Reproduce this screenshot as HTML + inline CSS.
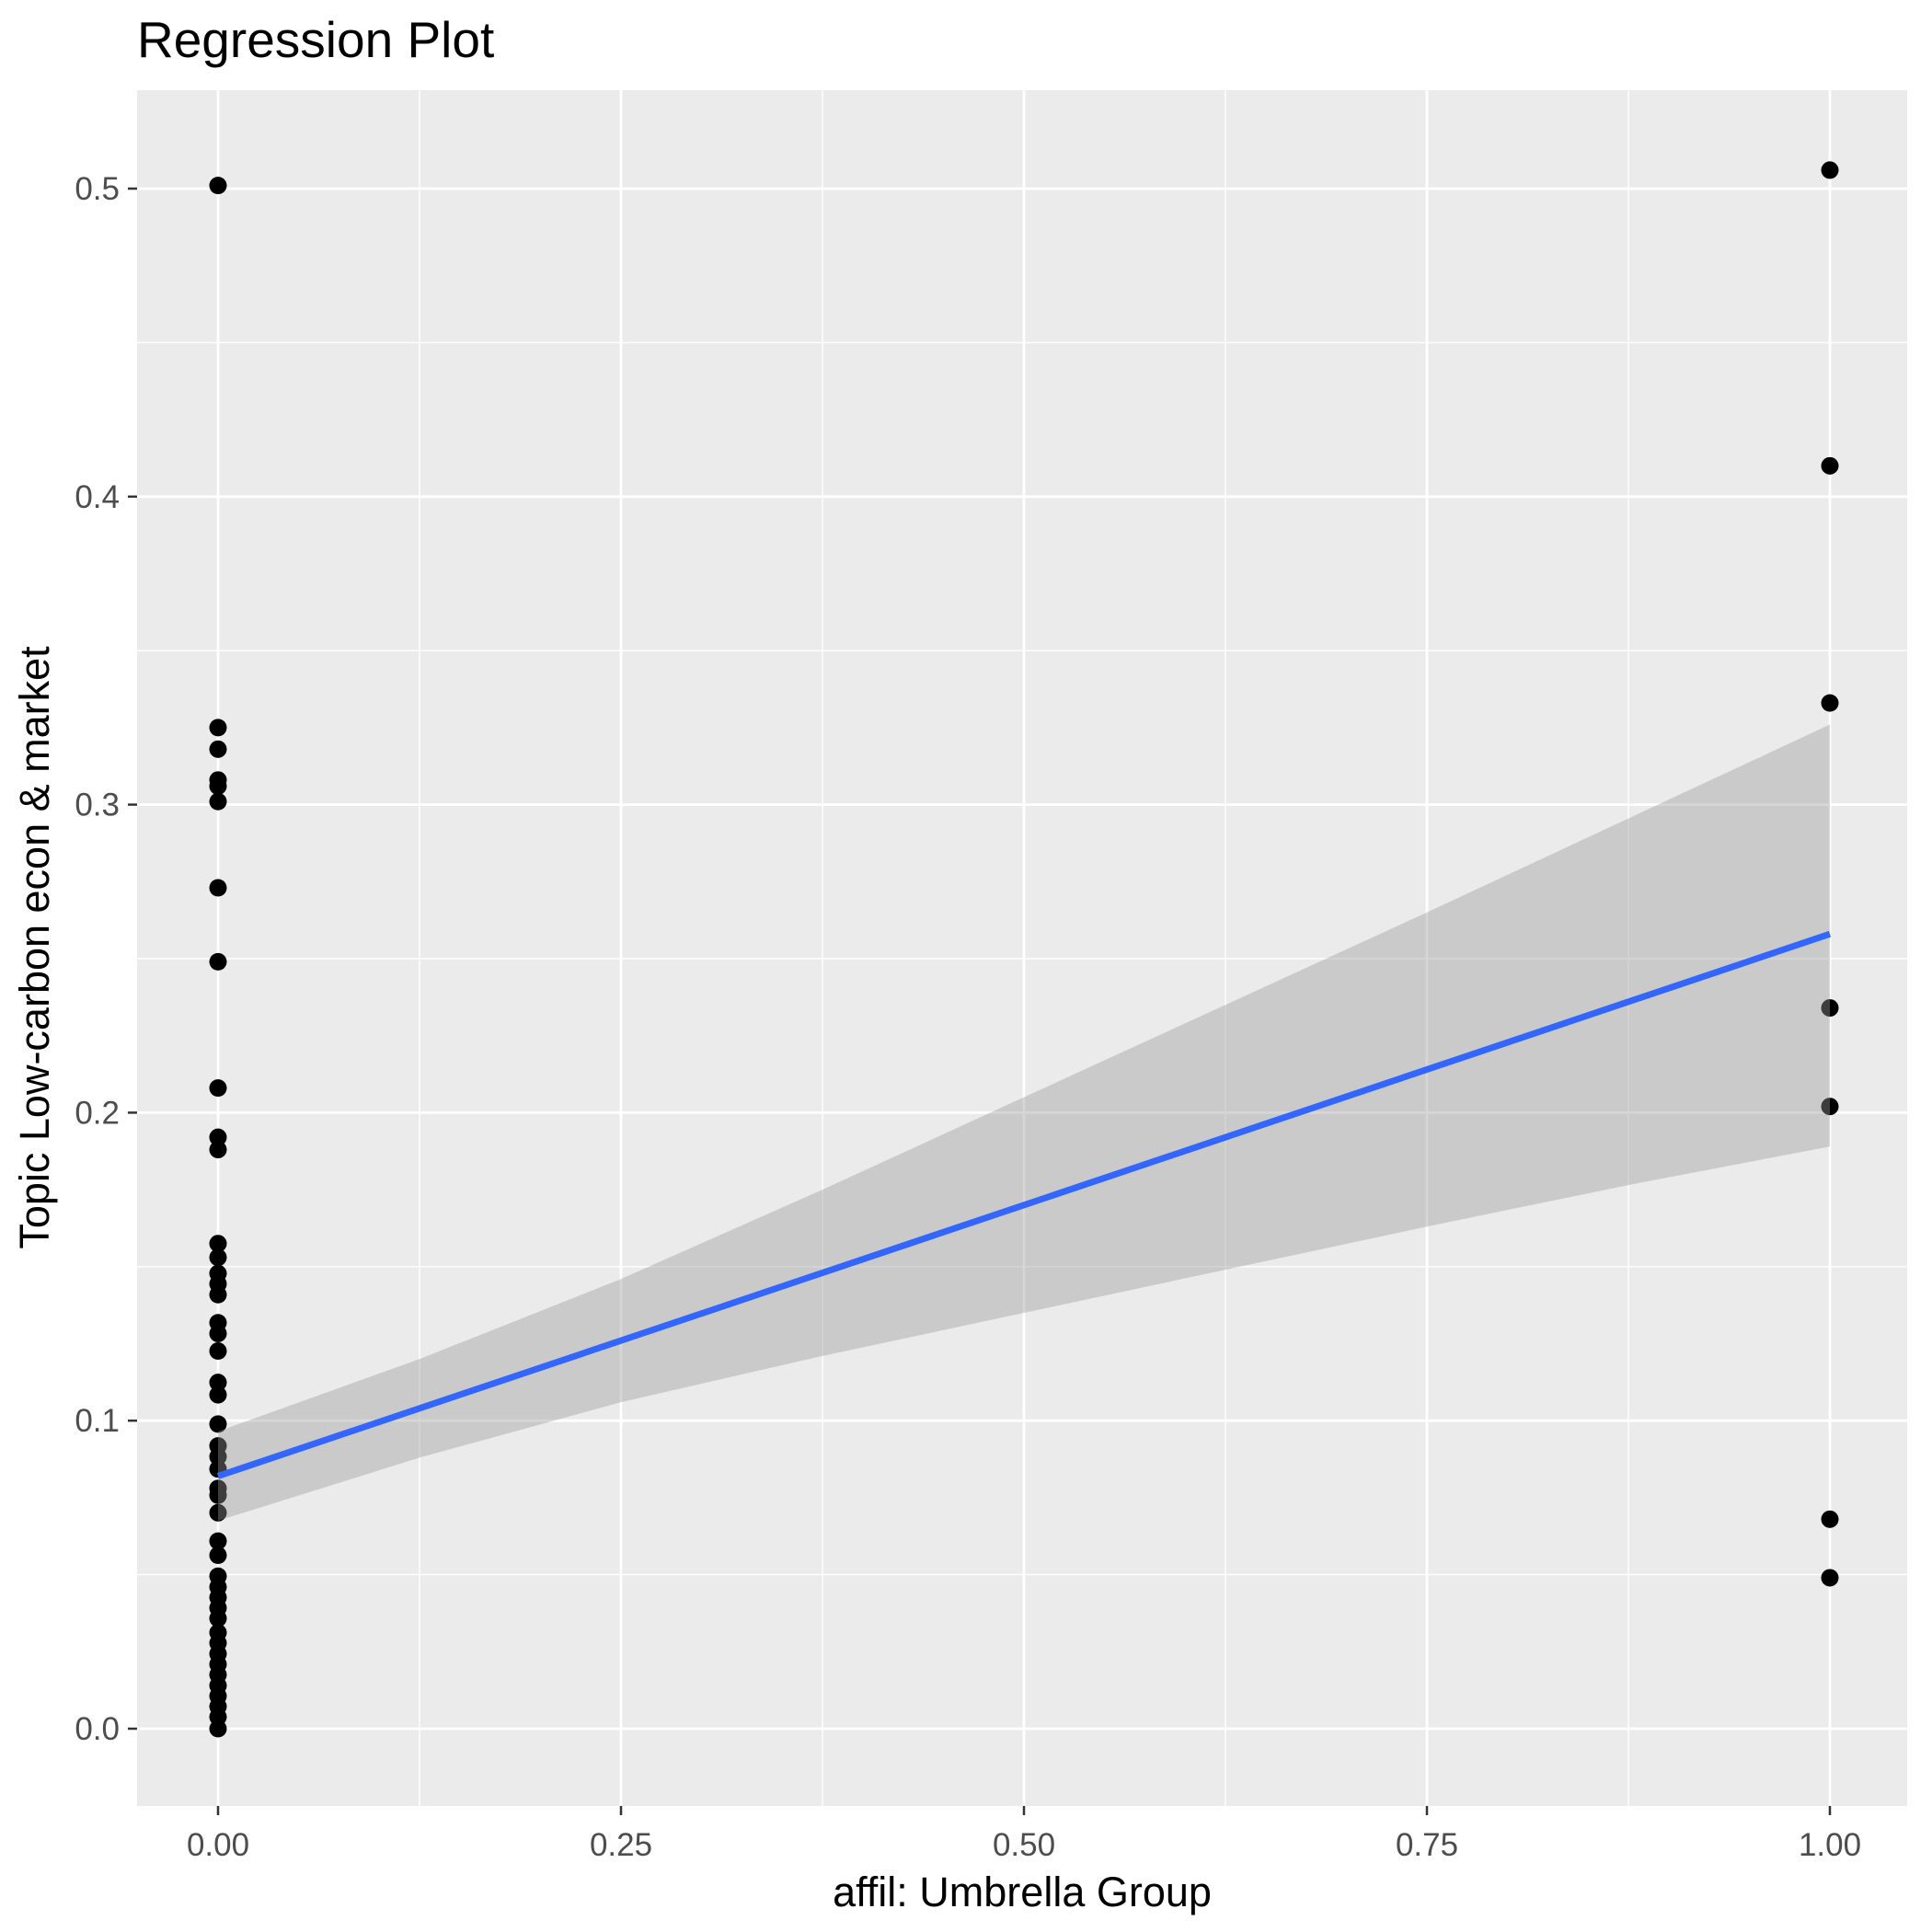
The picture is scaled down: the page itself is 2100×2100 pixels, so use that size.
<!DOCTYPE html>
<html><head><meta charset="utf-8"><style>
html,body{margin:0;padding:0;background:#fff}
svg{display:block;font-family:"Liberation Sans",Arial,sans-serif}
</style></head><body>
<svg id="chart" width="2100" height="2100" viewBox="0 0 2100 2100"></svg>
<script>
const xGroup0 = [0.1575,0.153,0.1478,0.1444,0.1409,0.1318,0.1283,0.1226,0.1124,0.1084,0.0989,0.0918,0.0883,0.0843,0.078,0.0758,0.0701,0.0609,0.0563,0.0495,0.046,0.0426,0.0392,0.0358,0.0312,0.0278,0.0243,0.0209,0.0175,0.014,0.0106,0.0072,0.0038,0,0.501,0.325,0.318,0.308,0.306,0.301,0.273,0.249,0.208,0.192,0.188];
const xGroup1 = [0.506,0.410,0.333,0.234,0.202,0.068,0.049];
const fitX = [0,1];
const fitY = [0.082,0.258];
const bandX = [0,0.125,0.25,0.375,0.5,0.625,0.75,0.875,1];
const bandLow = [0.0675,0.088,0.106,0.121,0.135,0.149,0.163,0.1765,0.189];
const bandHigh = [0.0965,0.120,0.146,0.175,0.205,0.235,0.265,0.2955,0.326];
const xTicks = [0,0.25,0.5,0.75,1];
const xTickLabels = ["0.00","0.25","0.50","0.75","1.00"];
const yTicks = [0,0.1,0.2,0.3,0.4,0.5];
const yTickLabels = ["0.0","0.1","0.2","0.3","0.4","0.5"];

const P = {l:149,r:2073,t:98,b:1963};
const sx = v => 237 + v*1752;
const sy = v => 1879 - v*3348;
const NS = "http://www.w3.org/2000/svg";
const svg = document.getElementById('chart');
function mk(tag, attrs, parent){
  const e = document.createElementNS(NS, tag);
  for (const k in attrs) e.setAttribute(k, attrs[k]);
  (parent||svg).appendChild(e);
  return e;
}
const panel = mk('rect',{x:P.l,y:P.t,width:P.r-P.l,height:P.b-P.t,fill:'#ebebeb'});



const grid = mk('g',{});


for (let i=0;i<xTicks.length-1;i++){
  const v=(xTicks[i]+xTicks[i+1])/2;
  mk('line',{x1:sx(v),x2:sx(v),y1:P.t,y2:P.b,stroke:'#fff','stroke-width':1.4},grid);
}
for (let i=0;i<yTicks.length-1;i++){
  const v=(yTicks[i]+yTicks[i+1])/2;
  mk('line',{x1:P.l,x2:P.r,y1:sy(v),y2:sy(v),stroke:'#fff','stroke-width':1.4},grid);
}
xTicks.forEach(v=>mk('line',{x1:sx(v),x2:sx(v),y1:P.t,y2:P.b,stroke:'#fff','stroke-width':2.8},grid));
yTicks.forEach(v=>mk('line',{x1:P.l,x2:P.r,y1:sy(v),y2:sy(v),stroke:'#fff','stroke-width':2.8},grid));

const pts = mk('g',{});


xGroup0.forEach(v=>{
  const c=mk('circle',{cx:sx(0),cy:sy(v),r:9.5,fill:'#000'},pts);
  
  
});
xGroup1.forEach(v=>{
  const c=mk('circle',{cx:sx(1),cy:sy(v),r:9.5,fill:'#000'},pts);
  
  
});

let d='';
bandX.forEach((x,i)=>{d+=(i?'L':'M')+sx(x)+','+sy(bandHigh[i]);});
for(let i=bandX.length-1;i>=0;i--) d+='L'+sx(bandX[i])+','+sy(bandLow[i]);
d+='Z';
const band=mk('path',{d:d,fill:'#999','fill-opacity':0.4});


const fit=mk('line',{x1:sx(fitX[0]),y1:sy(fitY[0]),x2:sx(fitX[1]),y2:sy(fitY[1]),stroke:'#3366ff','stroke-width':7});



const xa=mk('g',{});


xTicks.forEach((v,i)=>{
  mk('line',{x1:sx(v),x2:sx(v),y1:P.b,y2:P.b+10,stroke:'#333','stroke-width':2.5},xa);
  const t=mk('text',{x:sx(v),y:2017,'text-anchor':'middle','font-size':35,fill:'#4d4d4d'},xa);
  t.textContent=xTickLabels[i];
  
  
});
const ya=mk('g',{});


yTicks.forEach((v,i)=>{
  mk('line',{x1:P.l-10,x2:P.l,y1:sy(v),y2:sy(v),stroke:'#333','stroke-width':2.5},ya);
  const t=mk('text',{x:130,y:sy(v)+12,'text-anchor':'end','font-size':35,fill:'#4d4d4d'},ya);
  t.textContent=yTickLabels[i];
  
  
});
</script>
<svg style="position:absolute;left:0;top:0" width="2100" height="2100">
<text x="149" y="62" font-size="55" fill="#000">Regression Plot</text>
<text x="1111" y="2072" font-size="45" text-anchor="middle" fill="#000">affil: Umbrella Group</text>
<text x="0" y="0" font-size="45" text-anchor="middle" fill="#000" transform="translate(53,1030) rotate(-90)">Topic Low-carbon econ &amp; market</text>
</svg>
</body></html>
